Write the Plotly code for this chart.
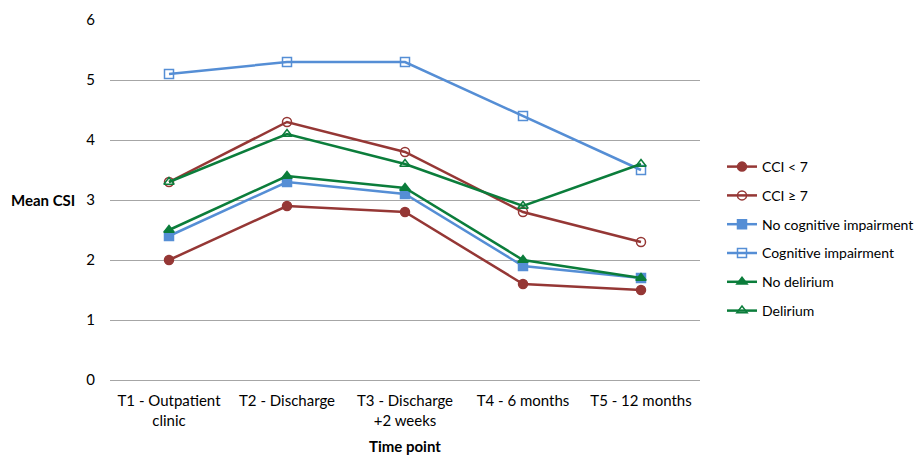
import plotly.graph_objects as go

categories = ["T1 - Outpatient<br>clinic", "T2 - Discharge", "T3 - Discharge<br>+2 weeks",
              "T4 - 6 months", "T5 - 12 months"]
cci_lt7 = [2.0, 2.9, 2.8, 1.6, 1.5]
cci_ge7 = [3.3, 4.3, 3.8, 2.8, 2.3]
no_cog = [2.4, 3.3, 3.1, 1.9, 1.7]
cog = [5.1, 5.3, 5.3, 4.4, 3.5]
no_del = [2.5, 3.4, 3.2, 2.0, 1.7]
deli = [3.3, 4.1, 3.6, 2.9, 3.6]

RED = "#953735"
BLUE = "#558ED5"
GREEN = "#0B7D3B"
FONT = "Lato, sans-serif"

series = [
    ("CCI < 7", cci_lt7, RED, "circle"),
    ("CCI \u2265 7", cci_ge7, RED, "circle-open"),
    ("No cognitive impairment", no_cog, BLUE, "square"),
    ("Cognitive impairment", cog, BLUE, "square-open"),
    ("No delirium", no_del, GREEN, "triangle-up"),
    ("Delirium", deli, GREEN, "triangle-up-open"),
]

fig = go.Figure()
for i, (name, vals, col, sym) in enumerate(series):
    fig.add_trace(go.Scatter(
        x=categories, y=vals, name=name, mode="lines+markers",
        line=dict(color=col, width=2.5),
        marker=dict(color=col, symbol=sym, size=9, line=dict(color=col, width=1.5)),
        legendgroup=str(i),
    ))

W, H = 922, 455
fig.update_layout(
    width=W, height=H,
    margin=dict(l=102, r=W - 102 - 590, t=12, b=H - 12 - 360, autoexpand=False),
    plot_bgcolor="white", paper_bgcolor="white",
    font=dict(family=FONT, size=15, color="#000000"),
    showlegend=True,
    legend=dict(xref="container", yref="container", x=714 / W, y=1 - 143 / H,
                xanchor="left", yanchor="top",
                font=dict(size=14), tracegroupgap=7.6,
                traceorder="grouped", itemwidth=30, bgcolor="rgba(0,0,0,0)"),
    xaxis=dict(showgrid=False, showline=False, ticks="", tickfont=dict(size=15),
               range=[-0.5, 4.5], automargin=False, ticklabelstandoff=10),
    yaxis=dict(range=[0, 6], dtick=1, showgrid=True, gridcolor="#A6A6A6", gridwidth=1,
               zeroline=True, zerolinecolor="#A6A6A6", zerolinewidth=1, automargin=False,
               showline=False, ticks="", tickfont=dict(size=15), ticklabelstandoff=14),
    annotations=[
        dict(text="<b>Mean CSI</b>", xref="paper", yref="paper", x=-0.056, y=0.5,
             xanchor="right", yanchor="middle", showarrow=False, font=dict(size=15)),
        dict(text="<b>Time point</b>", xref="paper", yref="paper", x=0.5, y=-0.152,
             xanchor="center", yanchor="top", showarrow=False, font=dict(size=15)),
    ],
)

fig.write_html("out.html")
